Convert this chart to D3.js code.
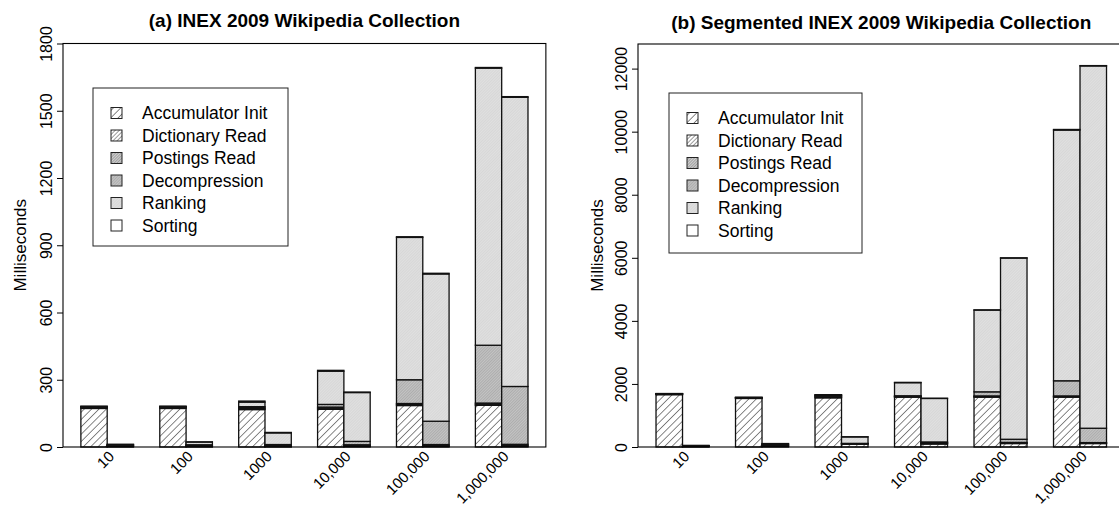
<!DOCTYPE html>
<html>
<head>
<meta charset="utf-8">
<script src="https://cdn.jsdelivr.net/npm/d3@7"></script>
<style>
  html, body { margin: 0; padding: 0; background: #fff; }
  svg { display: block; font-family: "Liberation Sans", Arial, Helvetica, sans-serif; }
</style>
</head>
<body>
<svg id="chart" width="1119" height="506"></svg>
<script>
// Result-set sizes along the x axis
const categories = ["10", "100", "1000", "10,000", "100,000", "1,000,000"];
// Stack components, bottom to top
const components = ["Accumulator Init", "Dictionary Read", "Postings Read", "Decompression", "Ranking", "Sorting"];

// (a) whole collection, ms per query: [acc init, dict read, postings read, decompression, ranking, sorting]
const wholeFirst = [
  [172, 3, 3, 2, 1, 1],
  [172, 3, 3, 2, 1, 1],
  [167, 4, 4, 5, 20, 5],
  [168, 5, 5, 12, 148, 4],
  [185, 5, 4, 106, 635, 3],
  [186, 5, 5, 258, 1236, 3]
];
const wholeSecond = [
  [2, 3, 3, 3, 1, 0],
  [2, 2, 3, 3, 12, 1],
  [2, 2, 3, 4, 52, 2],
  [3, 3, 4, 15, 218, 2],
  [3, 3, 5, 104, 657, 3],
  [3, 4, 5, 258, 1290, 3]
];

// (b) segmented collection, same component order
const segFirst = [
  [1660, 15, 10, 5, 3, 2],
  [1540, 10, 10, 8, 5, 2],
  [1560, 25, 25, 25, 15, 10],
  [1580, 15, 15, 15, 415, 10],
  [1580, 20, 20, 130, 2590, 10],
  [1580, 20, 20, 480, 7950, 20]
];
const segSecond = [
  [10, 10, 15, 10, 5, 0],
  [20, 25, 30, 25, 10, 0],
  [90, 10, 10, 5, 205, 5],
  [95, 20, 25, 20, 1380, 5],
  [110, 15, 20, 100, 5745, 10],
  [110, 15, 15, 455, 11490, 10]
];

const wholeTicks = [0, 300, 600, 900, 1200, 1500, 1800];
const segTicks = [0, 2000, 4000, 6000, 8000, 10000, 12000];

const svg = d3.select("#chart");
svg.append("rect").attr("width", 1119).attr("height", 506).attr("fill", "#fff");

// ---- fill patterns (diagonal shading of increasing density) ----
const defs = svg.append("defs");
function hatch(id, spacing, bg, stroke, sw) {
  const p = defs.append("pattern")
    .attr("id", id)
    .attr("patternUnits", "userSpaceOnUse")
    .attr("width", spacing).attr("height", spacing)
    .attr("patternTransform", "rotate(45)");
  p.append("rect").attr("width", spacing).attr("height", spacing).attr("fill", bg);
  if (stroke) {
    p.append("line")
      .attr("x1", 0).attr("y1", 0).attr("x2", 0).attr("y2", spacing)
      .attr("stroke", stroke).attr("stroke-width", sw);
  }
}
hatch("fill0", 5.2, "#ffffff", "#111", 1.0);    // Accumulator Init
hatch("fill1", 2.9, "#ffffff", "#222", 0.9);    // Dictionary Read
hatch("fill2", 2.0, "#d0d0d0", "#555", 0.8);    // Postings Read
hatch("fill3", 2.0, "#c4c4c4", "#8a8a8a", 0.8); // Decompression
hatch("fill4", 2.0, "#e0e0e0", "#c4c4c4", 0.7); // Ranking
hatch("fill5", 4, "#ffffff", null, 0);         // Sorting

const baseY = 447;

const panels = [
  {
    title: "(a) INEX 2009 Wikipedia Collection",
    left: 63, unit: 26.3, top: 43.5, yMax: 1800, ticks: wholeTicks,
    first: wholeFirst, second: wholeSecond,
    titleY: 27, yLabelX: 26,
    legend: { x: 93, y: 88, w: 195, h: 158 }
  },
  {
    title: "(b) Segmented INEX 2009 Wikipedia Collection",
    left: 638, unit: 26.5, top: 44, yMax: 12780, ticks: segTicks,
    first: segFirst, second: segSecond,
    titleY: 28.5, yLabelX: 603,
    legend: { x: 669, y: 93, w: 193, h: 160 }
  }
];

panels.forEach(p => {
  const g = svg.append("g");
  const x = d3.scaleLinear().domain([0.32, 18.68]).range([p.left, p.left + 18.36 * p.unit]);
  const y = d3.scaleLinear().domain([0, p.yMax]).range([baseY, p.top]);

  // one row per bar: two adjacent bars per category, one bar-width gap between pairs
  const rows = [];
  categories.forEach((c, i) => {
    [p.first, p.second].forEach((arr, j) => {
      const r = { slot: 1 + 3 * i + j };
      components.forEach((k, m) => { r[k] = arr[i][m]; });
      rows.push(r);
    });
  });
  const series = d3.stack().keys(components)(rows);

  series.forEach((s, m) => {
    g.append("g").selectAll("rect").data(s).join("rect")
      .attr("x", d => x(d.data.slot))
      .attr("width", d => x(d.data.slot + 1) - x(d.data.slot))
      .attr("y", d => y(d[1]))
      .attr("height", d => y(d[0]) - y(d[1]))
      .attr("fill", `url(#fill${m})`)
      .attr("stroke", "#111")
      .attr("stroke-width", 1.3);
  });

  // plot frame
  g.append("rect")
    .attr("x", x(0.32)).attr("y", p.top)
    .attr("width", x(18.68) - x(0.32)).attr("height", baseY - p.top)
    .attr("fill", "none").attr("stroke", "#000").attr("stroke-width", 1.1);

  // y axis
  const ax = g.append("g")
    .attr("transform", `translate(${x(0.32)},0)`)
    .call(d3.axisLeft(y).tickValues(p.ticks).tickSize(6).tickFormat(d3.format("d")));
  ax.select(".domain").remove();
  ax.selectAll(".tick line").attr("stroke", "#000").attr("stroke-width", 1);
  ax.selectAll(".tick text")
    .attr("x", null).attr("dy", null)
    .attr("transform", "translate(-11,0) rotate(-90)")
    .attr("text-anchor", "middle")
    .attr("font-size", 16)
    .attr("font-family", "Liberation Sans, Arial, sans-serif")
    .attr("fill", "#000");

  // category labels, slanted
  g.append("g").selectAll("text").data(categories).join("text")
    .attr("transform", (d, i) => `translate(${x(2 + 3 * i) + 4},${baseY + 6.5}) rotate(-45)`)
    .attr("text-anchor", "end")
    .attr("dominant-baseline", "central")
    .attr("font-size", 15)
    .text(d => d);

  // y label
  g.append("text")
    .attr("transform", `translate(${p.yLabelX},${(baseY + p.top) / 2}) rotate(-90)`)
    .attr("text-anchor", "middle")
    .attr("font-size", 17)
    .text("Milliseconds");

  // title
  g.append("text")
    .attr("x", (x(0.32) + x(18.68)) / 2)
    .attr("y", p.titleY)
    .attr("text-anchor", "middle")
    .attr("font-size", 19)
    .attr("font-weight", "bold")
    .text(p.title);

  // legend
  const L = p.legend;
  const lg = g.append("g");
  lg.append("rect")
    .attr("x", L.x).attr("y", L.y).attr("width", L.w).attr("height", L.h)
    .attr("fill", "#fff").attr("stroke", "#222").attr("stroke-width", 1);
  const item = lg.selectAll("g.item").data(components).join("g")
    .attr("class", "item")
    .attr("transform", (d, i) => `translate(${L.x},${L.y + 25 + i * 22.5})`);
  item.append("rect")
    .attr("x", 18).attr("y", -5.5).attr("width", 11).attr("height", 11)
    .attr("fill", (d, i) => `url(#fill${i})`)
    .attr("stroke", "#222").attr("stroke-width", 1);
  item.append("text")
    .attr("x", 49).attr("y", 0)
    .attr("dominant-baseline", "central")
    .attr("font-size", 17.5)
    .text(d => d);
});
</script>
</body>
</html>
